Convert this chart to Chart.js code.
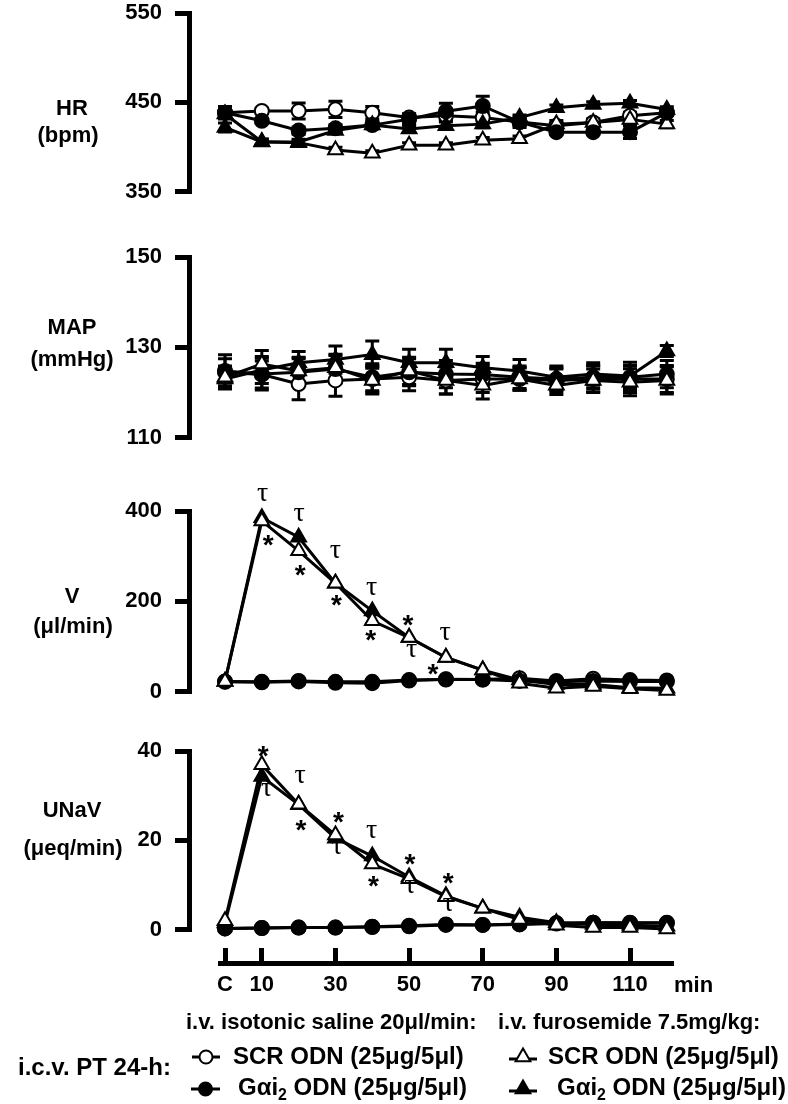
<!DOCTYPE html>
<html><head><meta charset="utf-8">
<script src="https://cdn.jsdelivr.net/npm/chart.js@4.4.1/dist/chart.umd.min.js"></script>
<style>
html,body{margin:0;padding:0;background:#fff}
body{width:788px;height:1104px;position:relative;overflow:hidden;font-family:"Liberation Sans",Arial,Helvetica,sans-serif;font-weight:bold;color:#000}
canvas{position:absolute;left:0}
.t{position:absolute;white-space:nowrap;line-height:1}
sub{font-size:0.66em;vertical-align:-0.32em;line-height:0}
</style></head><body>
<canvas id="cHR"></canvas>
<canvas id="cMAP"></canvas>
<canvas id="cV"></canvas>
<canvas id="cU"></canvas>
<canvas id="cX"></canvas>
<svg id="leg" style="position:absolute;left:0;top:1000px" width="788" height="104"></svg>
<script>
// ---------------- DATA ----------------
const minutes = [0,10,20,30,40,50,60,70,80,90,100,110,120];
const xTickValues = [0,10,30,50,70,90,110];
const xTickLabels = ['C','10','30','50','70','90','110'];

const hrTicks = [350,450,550];
const hrScrSaline = [438.5,440.4,440.4,442.2,438.5,433,435,433,428,424,427.6,435,438.5];
const hrGaiSaline = [438.5,429.4,418.5,421,424.6,431.2,440,446,428,416.7,416.7,416.7,438.5];
const hrScrFuro   = [437,406,405,396.7,393,402,402,407.6,409.4,425.7,427.6,431,425.7];
const hrGaiFuro   = [422,405.7,405.7,418.5,424.6,420.3,424,425.7,433,444,447.6,449,442];
const hrScrSalineErr = [7,3,9,9,7,4,5,6,4,3,3,4,3];
const hrGaiSalineErr = [4,3,4,4,4,6,9,11,6,3,3,7,3];
const hrScrFuroErr   = [3,3,3,3,3,3,3,3,3,4,4,6,4];
const hrGaiFuroErr   = [5,3,3,3,3,4,4,4,3,3,3,3,3];

const mapTicks = [110,130,150];
const mapScrSaline = [124.5,124,121.9,122.7,123,123.4,122.7,123,123,122.7,123,123,123];
const mapGaiSaline = [124.8,124.1,124.5,125.2,123.4,124.5,124.1,124,123.4,123,123.4,123.4,124.1];
const mapScrFuro   = [123.4,126.3,124.8,125.5,122.7,124.8,122.7,121.6,123,121.6,122.7,122.3,122.7];
const mapGaiFuro   = [123,125,126.6,127.3,128.4,126.6,126.6,125.5,124.8,123.4,124.1,123.7,129.2];
const mapScrSalineErr = [3,3,3.5,3.5,3,3,3,3,2.5,2.5,3,3,3];
const mapGaiSalineErr = [3.6,3.5,3,3,3,3,3,2.5,2.5,2.5,2.5,2.5,3];
const mapScrFuroErr   = [2.5,3,3,3,3,3,3,3,2.5,2,2.5,3,3];
const mapGaiFuroErr   = [2.2,3,2.5,3,3,3,3,2.5,2.5,2.5,2.5,3,1.2];

const vTicks = [0,200,400];
const vScrSaline = [22,21,23,20,19,25,28,27,30,24,29,26,25];
const vGaiSaline = [23,22,24,22,22,26,27,27,24,22,24,23,23];
const vScrFuro   = [23,378,312,240,157,120,76,48,19,8,12,7,3];
const vGaiFuro   = [23,385,342,240,179,120,76,48,26,16,16,9,8];
const vMarkX = [10.2,11.7,20.1,20.4,30,30.3,39.8,39.6,49.7,50.7,59.8,56.5];
const vMarkY = [436,334,392,269,310,201,229,125,158,92,128,49];
const vMarkT = ['τ','*','τ','*','τ','*','τ','*','*','τ','τ','*'];

const uTicks = [0,20,40];
const uScrSaline = [0.3,0.4,0.5,0.5,0.6,0.8,1.1,1.1,1.3,1.5,1.6,1.5,1.6];
const uGaiSaline = [0.3,0.4,0.5,0.5,0.7,0.9,1.2,1.1,1.2,1.4,1.6,1.6,1.5];
const uScrFuro   = [2,36.9,28.1,21.2,14.7,11.4,7.4,4.8,2.3,1,0.5,0.5,0.2];
const uGaiFuro   = [1.5,34.3,28,20.5,16.5,11.8,7.6,4.8,2.8,1.6,1.2,1,0.8];
const uMarkX = [10.4,11.3,20.4,20.6,30.8,30.4,39.8,40.3,50.2,50.2,60.6,60.6];
const uMarkY = [39.8,31.4,34.3,23.4,25.2,18.3,22,10.7,15.8,9.6,11.4,5.6];
const uMarkT = ['*','τ','τ','*','*','τ','τ','*','*','τ','*','τ'];

// ---------------- RENDERING ----------------
Chart.defaults.font.family = '"Liberation Sans", Arial, sans-serif';
Chart.defaults.color = '#000';

function makeOverlay(errs, marks) {
  return {
    id: 'overlay',
    beforeDatasetsDraw(chart) {
      if (!errs) return;
      const ctx = chart.ctx, xs = chart.scales.x, ys = chart.scales.y;
      ctx.save(); ctx.strokeStyle = '#000'; ctx.lineWidth = 3; ctx.lineCap = 'butt';
      chart.data.datasets.forEach(ds => {
        const arr = errs[ds.key]; if (!arr) return;
        arr.forEach((e, i) => {
          if (!e) return;
          const v = ds.data[i].y;
          const x = xs.getPixelForValue(minutes[i]);
          const yt = ys.getPixelForValue(v + e), yb = ys.getPixelForValue(v - e);
          ctx.beginPath();
          ctx.moveTo(x, yt); ctx.lineTo(x, yb);
          ctx.moveTo(x - 7, yt); ctx.lineTo(x + 7, yt);
          ctx.moveTo(x - 7, yb); ctx.lineTo(x + 7, yb);
          ctx.stroke();
        });
      });
      ctx.restore();
    },
    afterDatasetsDraw(chart) {
      if (!marks) return;
      const ctx = chart.ctx, xs = chart.scales.x, ys = chart.scales.y;
      ctx.save(); ctx.fillStyle = '#000'; ctx.textAlign = 'center'; ctx.textBaseline = 'alphabetic';
      marks.t.forEach((t, i) => {
        ctx.font = t === '*' ? 'bold 28px "Liberation Sans", Arial, sans-serif' : '28px "Liberation Serif", "DejaVu Serif", serif';
        const mm = ctx.measureText(t);
        const x = xs.getPixelForValue(marks.x[i]);
        const y = ys.getPixelForValue(marks.y[i]) + (mm.actualBoundingBoxAscent - mm.actualBoundingBoxDescent) / 2;
        ctx.fillText(t, x, y);
      });
      ctx.restore();
    }
  };
}

const PAD_T = 32, PAD_B = 22;
const STYLE = {
  scrFuro: {pointStyle:'triangle', pointRadius:8.5, pointBackgroundColor:'#fff'},
  gaiFuro: {pointStyle:'triangle', pointRadius:8.5, pointBackgroundColor:'#000'},
  gaiSal:  {pointStyle:'circle', pointRadius:7, pointBackgroundColor:'#000'},
  scrSal:  {pointStyle:'circle', pointRadius:7, pointBackgroundColor:'#fff'}
};
function series(vals, topFirst) {
  const base = {borderColor:'#000', borderWidth:3, pointBorderColor:'#000', pointBorderWidth:2, tension:0, clip:false};
  return topFirst.map(k => Object.assign({key:k, label:k,
    data: vals[k].map((v, i) => ({x: minutes[i], y: v}))}, base, STYLE[k]));
}
function panel(id, top, bottom, yMin, yMax, ticks, sets, errs, marks) {
  const cv = document.getElementById(id);
  const h = Math.round(bottom - top) + PAD_T + PAD_B;
  cv.width = 788; cv.height = h;
  cv.style.top = (top - PAD_T) + 'px';
  cv.style.width = '788px'; cv.style.height = h + 'px';
  new Chart(cv, {
    type: 'line',
    data: { datasets: sets },
    options: {
      responsive:false, animation:false, devicePixelRatio:1,
      layout:{padding:{left:0, right:117.5, top:PAD_T, bottom:PAD_B}},
      plugins:{legend:{display:false}, tooltip:{enabled:false}},
      scales:{
        x:{type:'linear', display:false, min:-9.78, max:121},
        y:{type:'linear', min:yMin, max:yMax,
           afterBuildTicks: s => { s.ticks = ticks.map(v => ({value:v})); },
           afterFit: s => { s.width = 189; },
           ticks:{font:{size:22, weight:'bold'}, color:'#000', padding:13},
           grid:{drawOnChartArea:false, drawTicks:true, tickLength:14, lineWidth:5, color:'#000'},
           border:{display:true, width:5, color:'#000'}}
      }
    },
    plugins:[makeOverlay(errs, marks)]
  });
}
const ORDER_HR = ['gaiFuro','gaiSal','scrFuro','scrSal'];
const ORDER = ['scrFuro','gaiFuro','gaiSal','scrSal'];
panel('cHR', 13, 196, 350, 550, hrTicks,
  series({scrSal:hrScrSaline, gaiSal:hrGaiSaline, scrFuro:hrScrFuro, gaiFuro:hrGaiFuro}, ORDER_HR),
  {scrSal:hrScrSalineErr, gaiSal:hrGaiSalineErr, scrFuro:hrScrFuroErr, gaiFuro:hrGaiFuroErr}, null);
panel('cMAP', 257, 441.5, 110, 150, mapTicks,
  series({scrSal:mapScrSaline, gaiSal:mapGaiSaline, scrFuro:mapScrFuro, gaiFuro:mapGaiFuro}, ORDER),
  {scrSal:mapScrSalineErr, gaiSal:mapGaiSalineErr, scrFuro:mapScrFuroErr, gaiFuro:mapGaiFuroErr}, null);
panel('cV', 511, 695.5, 0, 400, vTicks,
  series({scrSal:vScrSaline, gaiSal:vGaiSaline, scrFuro:vScrFuro, gaiFuro:vGaiFuro}, ORDER),
  null, {x:vMarkX, y:vMarkY, t:vMarkT});
panel('cU', 751, 934, 0, 40, uTicks,
  series({scrSal:uScrSaline, gaiSal:uGaiSaline, scrFuro:uScrFuro, gaiFuro:uGaiFuro}, ORDER),
  null, {x:uMarkX, y:uMarkY, t:uMarkT});

// bottom time axis
(function(){
  const cv = document.getElementById('cX');
  cv.width = 788; cv.height = 80; cv.style.top = '930px'; cv.style.width='788px'; cv.style.height='80px';
  new Chart(cv, {
    type:'line',
    data:{datasets:[{data:[]}]},
    options:{
      responsive:false, animation:false, devicePixelRatio:1,
      layout:{padding:{left:220, right:116.3, top:18, bottom:7}},
      plugins:{legend:{display:false}, tooltip:{enabled:false}},
      scales:{
        x:{type:'linear', position:'bottom', min:-1.36, max:121.32,
           afterBuildTicks: s => { s.ticks = xTickValues.map(v => ({value:v})); },
           afterFit: s => { s.height = 40; },
           ticks:{autoSkip:false, maxRotation:0, font:{size:22, weight:'bold'}, color:'#000', padding:9,
                  callback:(v, i) => xTickLabels[i]},
           grid:{drawOnChartArea:true, drawTicks:false, lineWidth:5, color:'#000'},
           border:{display:true, width:5, color:'#000'}},
        y:{display:false, min:0, max:1}
      }
    }
  });
})();

// ---------------- TEXT ----------------
function place(html, x, baseline, size, align) {
  const d = document.createElement('div');
  d.className = 't';
  d.style.fontSize = size + 'px';
  d.style.top = (baseline - 0.8465 * size) + 'px';
  d.style.left = x + 'px';
  if (align === 'center') d.style.transform = 'translateX(-50%)';
  d.innerHTML = html;
  document.body.appendChild(d);
}
place('HR', 72, 116, 22, 'center');
place('(bpm)', 68, 143, 22, 'center');
place('MAP', 72, 335, 22, 'center');
place('(mmHg)', 72, 367, 22, 'center');
place('V', 72, 604, 22, 'center');
place('(μl/min)', 73, 634, 22, 'center');
place('UNaV', 72, 818, 22, 'center');
place('(μeq/min)', 73, 856, 22, 'center');
place('min', 674, 993, 22, 'left');

place('i.v. isotonic saline 20μl/min:', 186, 1030, 22, 'left');
place('i.v. furosemide 7.5mg/kg:', 498, 1030, 22, 'left');
place('i.c.v. PT 24-h:', 18, 1075, 24, 'left');
place('SCR ODN (25μg/5μl)', 233, 1064, 24, 'left');
place('Gαi<sub>2</sub> ODN (25μg/5μl)', 238, 1095, 24, 'left');
place('SCR ODN (25μg/5μl)', 548, 1064, 24, 'left');
place('Gαi<sub>2</sub> ODN (25μg/5μl)', 557, 1095, 24, 'left');

// legend symbols
(function(){
  const svg = document.getElementById('leg');
  const ns = 'http://www.w3.org/2000/svg';
  function el(name, attrs){ const e = document.createElementNS(ns, name); for (const k in attrs) e.setAttribute(k, attrs[k]); svg.appendChild(e); }
  function tri(cx, cy, r){ const s = r*Math.sqrt(3)/2; return `${cx},${cy-r} ${cx+s},${cy+r/2} ${cx-s},${cy+r/2}`; }
  const y2 = 57, y3 = 89;
  el('line',{x1:192,y1:y2,x2:220,y2:y2,stroke:'#000','stroke-width':3});
  el('circle',{cx:206,cy:y2,r:6.5,fill:'#fff',stroke:'#000','stroke-width':2});
  el('line',{x1:191,y1:y3,x2:220,y2:y3,stroke:'#000','stroke-width':3});
  el('circle',{cx:205.5,cy:y3,r:6.5,fill:'#000',stroke:'#000','stroke-width':2});
  el('line',{x1:509,y1:y2+2,x2:537,y2:y2+2,stroke:'#000','stroke-width':3});
  el('polygon',{points:tri(523,y2,8.5),fill:'#fff',stroke:'#000','stroke-width':2});
  el('line',{x1:509,y1:y3+2,x2:537,y2:y3+2,stroke:'#000','stroke-width':3});
  el('polygon',{points:tri(523,y3,8.5),fill:'#000',stroke:'#000','stroke-width':2});
})();
</script>
</body></html>
